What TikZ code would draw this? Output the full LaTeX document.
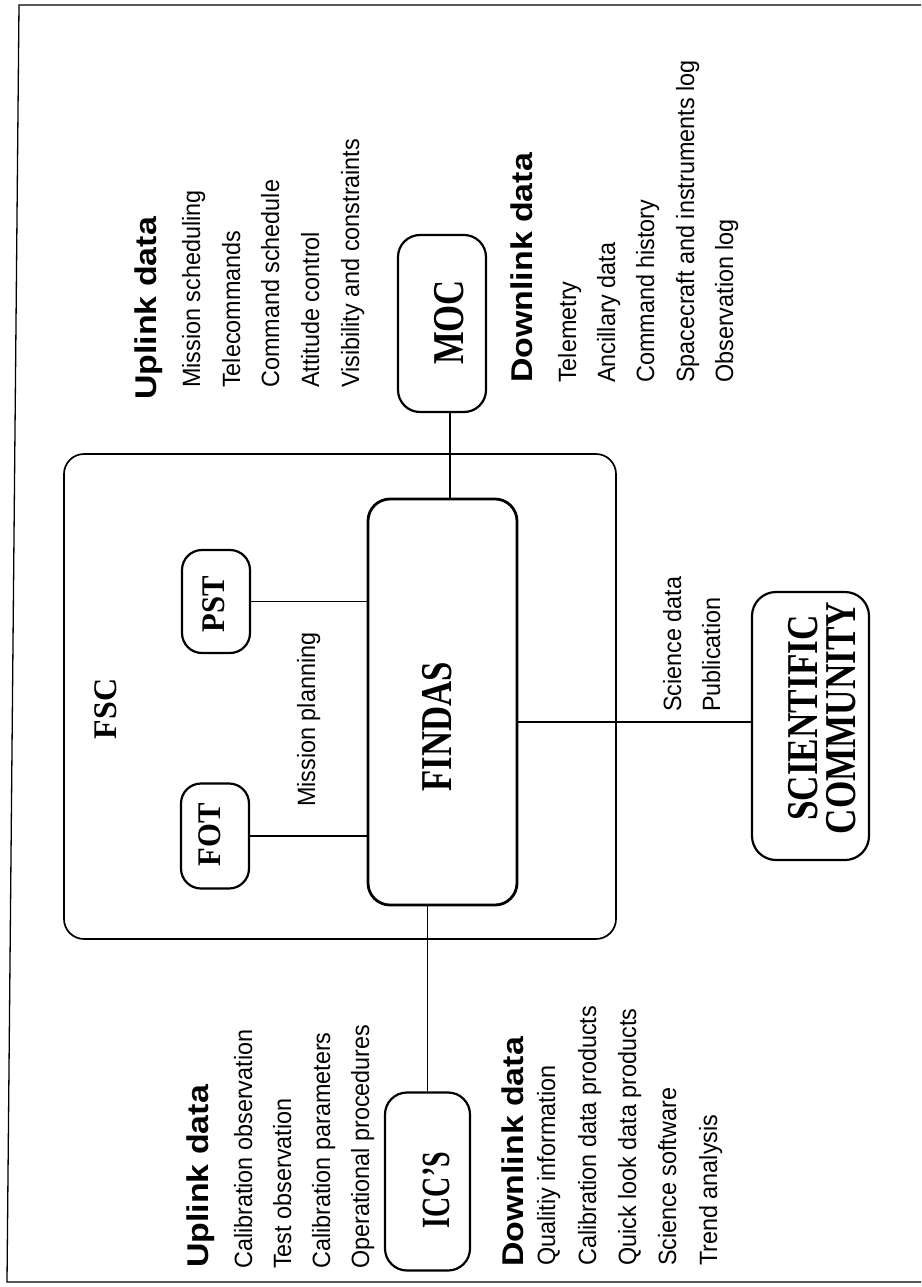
\documentclass[tikz,border=0pt]{standalone}
\usepackage{fontspec}
\usepackage{graphicx}
\setmainfont{Liberation Serif}
\newfontfamily\listfont[FakeStretch=0.935]{Liberation Sans}
\newfontfamily\headfont[FakeStretch=1.13]{Liberation Sans}
\usetikzlibrary{calc}
% horizontal squeeze of a label
\newcommand{\sqz}[2]{\scalebox{#1}[1]{#2}}

\begin{document}
\begin{tikzpicture}[x=1pt,y=-1pt,
  frame/.style={line width=1.3pt},
  box/.style={draw, line width=2.2pt, rounded corners=18pt, inner sep=0pt},
  bigtext/.style={rotate=90, inner sep=0pt, font=\bfseries\fontsize{44}{38}\selectfont},
  smalltext/.style={rotate=90, inner sep=0pt, font=\bfseries\fontsize{33}{33}\selectfont},
  item/.style={rotate=90, anchor=base west, inner sep=0pt, font=\listfont\fontsize{25}{25}\selectfont},
  head/.style={rotate=90, anchor=base west, inner sep=0pt, font=\headfont\bfseries\fontsize{30}{30}\selectfont},
  link/.style={line width=1.6pt}]
\useasboundingbox (0,0) rectangle (921,1287);

% page frame (open on the right)
\draw[frame] (921,5) -- (19,5) -- (7,1282) -- (921,1282);

% FSC container and its members
\node[box, line width=1.7pt, rounded corners=20pt, minimum width=552pt, minimum height=485pt] (fsc) at (340,696.5) {};
\node[smalltext] (fsclabel) at (105.5,709) {\sqz{0.97}{FSC}};

\node[box, rounded corners=20pt, minimum width=68pt, minimum height=103pt] (pst) at (216,601.5) {};
\node[smalltext] (pstlabel) at (214,604) {\sqz{0.93}{PST}};

\node[box, rounded corners=20pt, minimum width=68pt, minimum height=105pt] (fot) at (215,836) {};
\node[smalltext] (fotlabel) at (210,835) {\sqz{0.93}{FOT}};

\node[box, line width=2.8pt, rounded corners=22pt, minimum width=149pt, minimum height=406pt] (findas) at (442.5,702) {};
\node[bigtext] (findaslabel) at (437.5,727) {\sqz{0.79}{FINDAS}};

% external partners
\node[box, rounded corners=22pt, minimum width=88pt, minimum height=177pt] (moc) at (442,323.5) {};
\node[bigtext] (moclabel) at (449.5,322.5) {\sqz{0.79}{MOC}};

\node[box, rounded corners=24pt, minimum width=117pt, minimum height=268pt] (sci) at (810.5,726) {};
\node[bigtext, align=center] (scilabel) at (822,718) {\sqz{0.8}{SCIENTIFIC}\\\sqz{0.8}{COMMUNITY}};

\node[box, rounded corners=22pt, minimum width=85pt, minimum height=178pt] (icc) at (427.5,1181.5) {};
\node[bigtext, font=\bfseries\fontsize{40}{40}\selectfont] (icclabel) at (436,1190) {\sqz{0.7}{ICC’S}};

% connections
\coordinate (mocx) at (450,0);
\coordinate (sciy) at (0,722);
\draw[link] (moc.south -| mocx) -- (findas.north -| mocx);
\draw[link, line width=1.9pt] (pst.east) -- (pst.east -| findas.west);
\draw[link, line width=1.9pt] (fot.east) -- (fot.east -| findas.west);
\draw[link] (findas.east |- sciy) -- (sci.west |- sciy);
\draw[link] (findas.south -| icc.north) -- (icc.north);

% MOC side data lists
\node[head] (mocup) at (156.5,400) {Uplink data};
\node[item] (mocup1) at (200,388) {Mission scheduling};
\node[item] (mocup2) at (240,388) {Telecommands};
\node[item] (mocup3) at (279,388) {Command schedule};
\node[item] (mocup4) at (319,388) {Attitude control};
\node[item] (mocup5) at (359,388) {Visibility and constraints};

\node[head] (mocdown) at (532.5,383) {Downlink data};
\node[item] (mocdown1) at (576,383) {Telemetry};
\node[item] (mocdown2) at (615,383) {Ancillary data};
\node[item] (mocdown3) at (654,383) {Command history};
\node[item] (mocdown4) at (694,383) {Spacecraft and instruments log};
\node[item] (mocdown5) at (733,383) {Observation log};

% inner labels
\node[item] (planning) at (315,807) {Mission planning};
\node[item] (science) at (681,712) {Science data};
\node[item] (publication) at (720,712) {Publication};

% ICC side data lists
\node[head] (iccup) at (208.5,1268) {Uplink data};
\node[item] (iccup1) at (252,1269) {Calibration observation};
\node[item] (iccup2) at (291,1269) {Test observation};
\node[item] (iccup3) at (330,1269) {Calibration parameters};
\node[item] (iccup4) at (369,1269) {Operational procedures};

\node[head] (iccdown) at (523.5,1267) {Downlink data};
\node[item] (iccdown1) at (555,1266) {Qualitiy information};
\node[item] (iccdown2) at (596,1266) {Calibration data products};
\node[item] (iccdown3) at (636,1266) {Quick look data products};
\node[item] (iccdown4) at (676,1266) {Science software};
\node[item] (iccdown5) at (717,1266) {Trend analysis};
\end{tikzpicture}
\end{document}
